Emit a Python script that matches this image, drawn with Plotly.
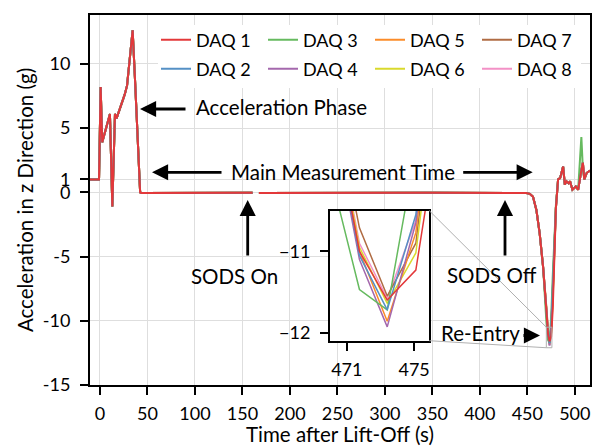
import plotly.graph_objects as go

# ---------------- data ----------------
t_main = [-12, -1, 0.7, 2.4, 10.5, 13, 15.8, 17.5, 20, 23, 26, 28.5, 30, 32.6, 33.2, 34.4,
          37, 40, 42.3, 43.5, 100, 160.7, 164, 167.4, 250, 350, 449, 452.6, 456, 459.6, 463, 466.6]
acc_main = [1.0, 1.0, 8.2, 3.9, 6.1, -1.1, 6.1, 5.75, 6.3, 6.9, 7.6, 8.3, 9.4, 11.3, 11.4, 12.6,
            8.6, 3.4, 0.0, -0.05, -0.05, -0.03, None, -0.05, -0.03, -0.04, -0.05, -0.12, -0.35, -1.4, -3.2, -5.8]

t_re = [470.1, 471.75, 473.4, 475.1, 476.8, 478.5]
daq1_re = [-9.2, -11.0, -11.6, -11.23, -9.0, -4.5]
daq2_re = [-9.2, -11.05, -11.72, -10.55, -7.5, -4.0]
daq3_re = [-10.1, -11.47, -11.72, -9.75, -6.5, -3.5]
daq4_re = [-9.3, -11.1, -11.93, -10.65, -7.6, -4.1]
daq5_re = [-9.2, -11.0, -11.86, -10.77, -7.8, -4.2]
daq6_re = [-9.1, -10.95, -11.64, -11.02, -8.2, -4.3]
daq7_re = [-9.0, -10.71, -11.55, -10.9, -8.0, -4.3]
daq8_re = [-9.1, -10.9, -11.58, -10.62, -7.6, -4.1]

t_tail = [480.1, 482.4, 484.5, 487.7, 489.5, 491.2, 493.5, 495, 497.5, 501, 503.5, 506.9, 508.5, 510, 512.5, 516]
acc_tail = [-1.2, 1.0, 1.1, 2.0, 0.6, 0.85, 0.7, 0.85, 0.2, 0.45, 0.2, 1.7, 2.3, 1.0, 1.5, 1.7]
acc_tail_daq3 = [-1.0, 1.0, 1.1, 2.0, 0.6, 0.85, 0.7, 0.85, 0.2, 0.45, 0.2, 4.3, 1.8, 1.0, 1.5, 1.7]

names = ["DAQ 1", "DAQ 2", "DAQ 3", "DAQ 4", "DAQ 5", "DAQ 6", "DAQ 7", "DAQ 8"]
colors = ["#e3383a", "#5590c5", "#66ba5f", "#a468ad", "#fb8c2a", "#d9d92c", "#b06c44", "#f391c6"]

x_ticks = [0, 50, 100, 150, 200, 250, 300, 350, 400, 450, 500]
y_ticks = [-15, -10, -5, 0, 1, 5, 10]
y_ticktext = ["-15", "-10", "-5", "0", "1", "5", "10"]
inset_x_ticks = [471, 475]
inset_y_ticks = [-11, -12]
inset_y_ticktext = ["\u221211", "\u221212"]

# ---------------- layout geometry ----------------
# the page body has an 8px margin, so the figure is drawn 8px smaller and shifted
OFF = 8
W, H = 601 - OFF, 446 - OFF
# plot area in page pixels: x 90..590, y 15..385
ML, MR, MT, MB = 90 - OFF, W - (590 - OFF), 15 - OFF, H - (385 - OFF)
XR = [-10.5, 516]
YR = [-15, 13.8]
IXR = [470, 475.9]
IYR = [-12.1, -10.5]
IDX = [0.48, 0.6786]
IDY = [0.1197, 0.471]
FONT = "Lato, Carlito, 'Open Sans', sans-serif"
FS = 18      # ticks and legend
FS_BIG = 20.5  # annotations and axis titles

pw, ph = 500, 370


def dx(px):
    return XR[0] + (px - 90) / pw * (XR[1] - XR[0])


def dy(py):
    return YR[1] - (py - 15) / ph * (YR[1] - YR[0])


t_all = t_main + t_re + t_tail
series = [
    acc_main + daq1_re + acc_tail,
    acc_main + daq2_re + acc_tail,
    acc_main + daq3_re + acc_tail_daq3,
    acc_main + daq4_re + acc_tail,
    acc_main + daq5_re + acc_tail,
    acc_main + daq6_re + acc_tail,
    acc_main + daq7_re + acc_tail,
    acc_main + daq8_re + acc_tail,
]
legend_of = ["legend", "legend2"] * 4
rank_of = [1, 1, 2, 2, 3, 3, 4, 4]

fig = go.Figure()
# draw DAQ 8 first, DAQ 1 last (on top)
for i in reversed(range(8)):
    fig.add_trace(go.Scatter(
        x=t_all, y=series[i], mode="lines", name=names[i],
        line=dict(color=colors[i], width=2), legend=legend_of[i],
        legendrank=rank_of[i], xaxis="x", yaxis="y"))
for i in reversed(range(8)):
    fig.add_trace(go.Scatter(
        x=t_all, y=series[i], mode="lines", name=names[i], showlegend=False,
        line=dict(color=colors[i], width=1.5), xaxis="x2", yaxis="y2"))

axis_common = dict(showline=True, linecolor="black", linewidth=2, mirror=True,
                   ticks="outside", ticklen=8, tickwidth=1.5, tickcolor="black",
                   zeroline=False, automargin=False,
                   tickfont=dict(family=FONT, size=FS, color="black"))

shapes = []
# white backing for legend area (covers grid, under traces)
shapes.append(dict(type="rect", xref="x", yref="y", layer="between",
                   x0=dx(158), x1=dx(581), y0=dy(88), y1=dy(25),
                   fillcolor="white", line=dict(width=0)))
# white backing for inset
shapes.append(dict(type="rect", xref="x2", yref="y2", layer="between",
                   x0=IXR[0], x1=IXR[1], y0=IYR[0], y1=IYR[1], fillcolor="white", line=dict(width=0)))
# zoom indicator rectangle
shapes.append(dict(type="rect", xref="x", yref="y", x0=IXR[0], x1=IXR[1], y0=IYR[0], y1=IYR[1],
                   line=dict(color="#b0b0b0", width=1), fillcolor="rgba(0,0,0,0)"))
# connector lines
ix_right = XR[0] + IDX[1] * (XR[1] - XR[0])
iy_top = YR[0] + IDY[1] * (YR[1] - YR[0])
iy_bot = YR[0] + IDY[0] * (YR[1] - YR[0])
shapes.append(dict(type="line", xref="x", yref="y", x0=ix_right, y0=iy_top, x1=IXR[0], y1=IYR[1],
                   line=dict(color="#b0b0b0", width=1)))
shapes.append(dict(type="line", xref="x", yref="y", x0=ix_right, y0=iy_bot, x1=IXR[0], y1=IYR[0],
                   line=dict(color="#b0b0b0", width=1)))

afont = dict(family=FONT, size=FS_BIG, color="black")
arrow = dict(showarrow=True, arrowhead=2, arrowsize=1.15, arrowwidth=2.8, arrowcolor="black",
             axref="pixel", ayref="pixel", text="", xref="x", yref="y")
annotations = [
    dict(x=dx(140), y=dy(109), ax=47, ay=0, **arrow),
    dict(x=dx(152), y=dy(172.3), ax=71, ay=0, **arrow),
    dict(x=dx(532.7), y=dy(172.3), ax=-71, ay=0, **arrow),
    dict(x=dx(247.7), y=dy(200), ax=0, ay=57, **arrow),
    dict(x=dx(505), y=dy(200), ax=0, ay=57, **arrow),
    dict(x=dx(540), y=dy(335.5), ax=-18, ay=0, **arrow),
    dict(x=dx(194), y=dy(107), text="Acceleration Phase", showarrow=False, xanchor="left",
         yanchor="middle", font=afont, xref="x", yref="y"),
    dict(x=dx(343), y=dy(172), text="Main Measurement Time", showarrow=False, xanchor="center",
         yanchor="middle", font=afont, xref="x", yref="y"),
    dict(x=dx(234.3), y=dy(276), text="SODS On", showarrow=False, xanchor="center",
         yanchor="middle", font=afont, xref="x", yref="y"),
    dict(x=dx(491.7), y=dy(275), text="SODS Off", showarrow=False, xanchor="center",
         yanchor="middle", font=afont, xref="x", yref="y"),
    dict(x=dx(480.3), y=dy(333), text="Re-Entry", showarrow=False, xanchor="center",
         yanchor="middle", font=afont, xref="x", yref="y"),
]

leg_common = dict(orientation="h", xanchor="left", yanchor="middle", bgcolor="rgba(255,255,255,0)",
                  entrywidth=62, entrywidthmode="pixels", font=dict(family=FONT, size=FS, color="black"),
                  traceorder="normal")

fig.update_layout(
    width=W, height=H,
    margin=dict(l=ML, r=MR, t=MT, b=MB),
    plot_bgcolor="white", paper_bgcolor="white",
    font=dict(family=FONT, size=FS, color="black"),
    xaxis=dict(domain=[0, 1], range=XR, tickvals=x_ticks, showgrid=True, gridcolor="#dedede",
               gridwidth=1, ticklabelstandoff=3,
               title=dict(text="Time after Lift-Off (s)", standoff=10,
                          font=dict(family=FONT, size=FS_BIG)), **axis_common),
    yaxis=dict(domain=[0, 1], range=YR, tickvals=y_ticks, ticktext=y_ticktext, showgrid=True,
               gridcolor="#dedede", gridwidth=1, ticklabelstandoff=6,
               title=dict(text="Acceleration in z Direction (g)", standoff=4,
                          font=dict(family=FONT, size=FS_BIG)), **axis_common),
    xaxis2=dict(domain=IDX, range=IXR, anchor="y2", tickvals=inset_x_ticks, showgrid=False,
                ticklabelstandoff=4, **axis_common),
    yaxis2=dict(domain=IDY, range=IYR, anchor="x2", tickvals=inset_y_ticks,
                ticktext=inset_y_ticktext, showgrid=False, ticklabelstandoff=6, **axis_common),
    legend=dict(x=(156 - 90) / pw, y=1 - (40 - 15) / ph, **leg_common),
    legend2=dict(x=(156 - 90) / pw, y=1 - (69 - 15) / ph, **leg_common),
    shapes=shapes,
    annotations=annotations,
    showlegend=True,
)

fig.write_html("out.html")
